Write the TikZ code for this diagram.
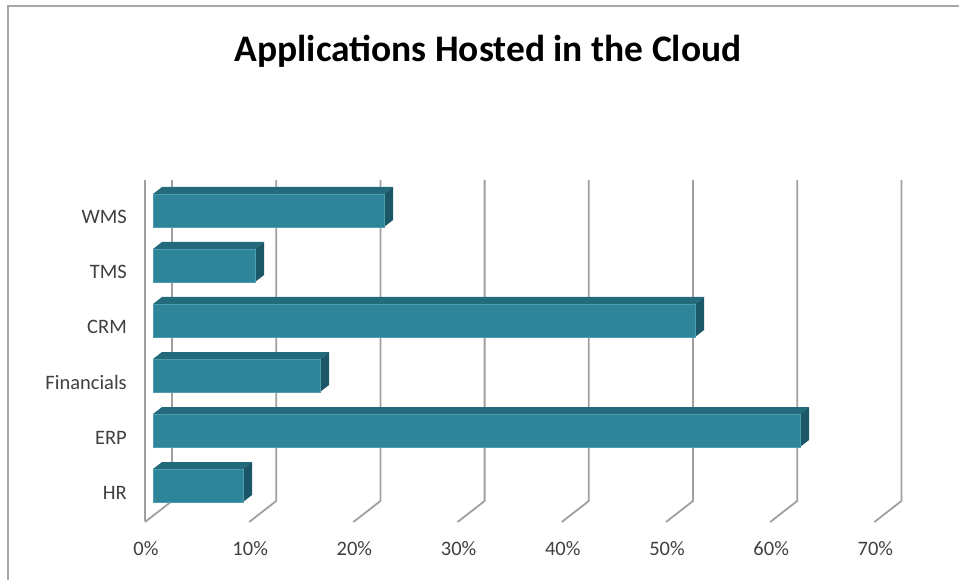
\documentclass[tikz,border=0pt]{standalone}
\usepackage{fontspec}
\setmainfont{Carlito}
\definecolor{barfront}{HTML}{2E8499}
\definecolor{baredge}{HTML}{4C9DB0}
\definecolor{bartop}{HTML}{236A7C}
\definecolor{barside}{HTML}{1C5767}
\definecolor{gridc}{HTML}{A0A0A0}
\definecolor{framec}{HTML}{A8A8A8}
\definecolor{labelc}{HTML}{404040}
\tikzset{
  gridline/.style={draw=gridc, line width=1.8pt, line join=miter},
  framebox/.style={draw=framec, line width=2pt},
  axislabel/.style={text=labelc, font=\fontsize{20.5}{20.5}\selectfont, inner sep=0pt},
  titlelabel/.style={text=black, font=\fontsize{37.5}{37.5}\selectfont\bfseries, inner sep=0pt},
  frontface/.style={fill=barfront, draw=baredge, line width=0.8pt},
  topface/.style={fill=bartop},
  sideface/.style={fill=barside}
}
\newcommand\hbarthreed[3]{%
  \fill[topface] (153,#1) -- (162,#1-7) -- (#2+9,#1-7) -- (#2,#1) -- cycle;
  \fill[sideface] (#2,#1) -- (#2+9,#1-7) -- (#2+9,#1+26) -- (#2,#1+33) -- cycle;
  \draw[frontface] (153,#1) rectangle (#2,#1+33);
  \node[axislabel, anchor=base east] (#3) at (127,#1+30) {#3};
}
\begin{document}
\begin{tikzpicture}[x=1pt,y=-1pt]
\useasboundingbox (0,0) rectangle (959,580);
\fill[white] (0,0) rectangle (959,580);
\draw[framebox] (8,581) -- (8,6) -- (960,6);
\node[titlelabel, anchor=base] (title) at (488,62) {Applications Hosted in the Cloud};
% walls and gridlines
\draw[gridline] (145,180) -- (145,521);
\foreach \k/\lab in {0/0\%,1/10\%,2/20\%,3/30\%,4/40\%,5/50\%,6/60\%,7/70\%}{
  \pgfmathsetmacro\xb{172+104.2*\k}
  \draw[gridline] (\xb,180) -- (\xb,501) -- (\xb-27,522);
  \node[axislabel, anchor=base] (xl\k) at (\xb-26,555) {\lab};
}
% bars
\hbarthreed{194}{384}{WMS}
\hbarthreed{249}{255}{TMS}
\hbarthreed{304}{695}{CRM}
\hbarthreed{359}{320}{Financials}
\hbarthreed{414}{800}{ERP}
\hbarthreed{469}{243}{HR}
\end{tikzpicture}
\end{document}
